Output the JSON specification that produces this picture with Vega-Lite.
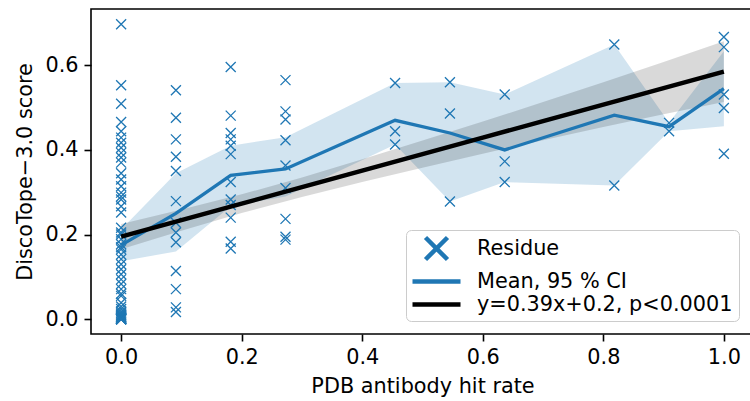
{
  "$schema": "https://vega.github.io/schema/vega-lite/v6.json",
  "width": 663,
  "height": 325,
  "autosize": {"type": "none"},
  "padding": {"left": 91, "top": 9, "right": 0, "bottom": 67},
  "background": "white",
  "config": {
    "font": "DejaVu Sans",
    "view": {"stroke": "black", "strokeWidth": 1.6},
    "axis": {
      "domain": false, "grid": false, "ticks": true,
      "tickColor": "black", "tickSize": 7, "tickWidth": 1.6,
      "labelFont": "DejaVu Sans", "labelFontSize": 20.8, "labelColor": "black", "labelPadding": 6,
      "titleFont": "DejaVu Sans", "titleFontSize": 20.8, "titleFontWeight": "normal", "titleColor": "black"
    },
    "axisX": {"titlePadding": 10},
    "axisY": {"titlePadding": 9}
  },
  "datasets": {
    "points": [
      {"x": 0, "y": 0.697}, {"x": 0, "y": 0.553}, {"x": 0, "y": 0.509}, {"x": 0, "y": 0.466},
      {"x": 0, "y": 0.444}, {"x": 0, "y": 0.429}, {"x": 0, "y": 0.417}, {"x": 0, "y": 0.405},
      {"x": 0, "y": 0.393}, {"x": 0, "y": 0.382}, {"x": 0, "y": 0.370}, {"x": 0, "y": 0.345},
      {"x": 0, "y": 0.330}, {"x": 0, "y": 0.314}, {"x": 0, "y": 0.299}, {"x": 0, "y": 0.290},
      {"x": 0, "y": 0.283}, {"x": 0, "y": 0.267}, {"x": 0, "y": 0.252}, {"x": 0, "y": 0.216},
      {"x": 0, "y": 0.205}, {"x": 0, "y": 0.200}, {"x": 0, "y": 0.189}, {"x": 0, "y": 0.177},
      {"x": 0, "y": 0.170}, {"x": 0, "y": 0.165}, {"x": 0, "y": 0.153}, {"x": 0, "y": 0.142},
      {"x": 0, "y": 0.130}, {"x": 0, "y": 0.118}, {"x": 0, "y": 0.106}, {"x": 0, "y": 0.094},
      {"x": 0, "y": 0.083}, {"x": 0, "y": 0.071}, {"x": 0, "y": 0.060}, {"x": 0, "y": 0.055},
      {"x": 0, "y": 0.039}, {"x": 0, "y": 0.030}, {"x": 0, "y": 0.024}, {"x": 0, "y": 0.018},
      {"x": 0, "y": 0.015}, {"x": 0, "y": 0.012}, {"x": 0, "y": 0.010}, {"x": 0, "y": 0.008},
      {"x": 0, "y": 0.006}, {"x": 0, "y": 0.005}, {"x": 0, "y": 0.004}, {"x": 0, "y": 0.003},
      {"x": 0, "y": 0.002}, {"x": 0, "y": 0.001}, {"x": 0, "y": 0.0}, {"x": 0, "y": 0.0},
      {"x": 0, "y": 0.0}, {"x": 0, "y": 0.0},
      {"x": 0.0909, "y": 0.541}, {"x": 0.0909, "y": 0.476}, {"x": 0.0909, "y": 0.425},
      {"x": 0.0909, "y": 0.384}, {"x": 0.0909, "y": 0.350}, {"x": 0.0909, "y": 0.279},
      {"x": 0.0909, "y": 0.228}, {"x": 0.0909, "y": 0.205}, {"x": 0.0909, "y": 0.182},
      {"x": 0.0909, "y": 0.114}, {"x": 0.0909, "y": 0.071}, {"x": 0.0909, "y": 0.028},
      {"x": 0.0909, "y": 0.017},
      {"x": 0.1818, "y": 0.596}, {"x": 0.1818, "y": 0.481}, {"x": 0.1818, "y": 0.440},
      {"x": 0.1818, "y": 0.425}, {"x": 0.1818, "y": 0.410}, {"x": 0.1818, "y": 0.390},
      {"x": 0.1818, "y": 0.324}, {"x": 0.1818, "y": 0.283}, {"x": 0.1818, "y": 0.270},
      {"x": 0.1818, "y": 0.240}, {"x": 0.1818, "y": 0.183}, {"x": 0.1818, "y": 0.167},
      {"x": 0.2727, "y": 0.565}, {"x": 0.2727, "y": 0.491}, {"x": 0.2727, "y": 0.472},
      {"x": 0.2727, "y": 0.423}, {"x": 0.2727, "y": 0.363}, {"x": 0.2727, "y": 0.310},
      {"x": 0.2727, "y": 0.237}, {"x": 0.2727, "y": 0.195}, {"x": 0.2727, "y": 0.188},
      {"x": 0.4545, "y": 0.558}, {"x": 0.4545, "y": 0.444}, {"x": 0.4545, "y": 0.413},
      {"x": 0.5455, "y": 0.560}, {"x": 0.5455, "y": 0.486}, {"x": 0.5455, "y": 0.278},
      {"x": 0.6364, "y": 0.531}, {"x": 0.6364, "y": 0.373}, {"x": 0.6364, "y": 0.324},
      {"x": 0.8182, "y": 0.649}, {"x": 0.8182, "y": 0.316},
      {"x": 0.9091, "y": 0.464}, {"x": 0.9091, "y": 0.444},
      {"x": 1.0, "y": 0.667}, {"x": 1.0, "y": 0.643}, {"x": 1.0, "y": 0.531},
      {"x": 1.0, "y": 0.499}, {"x": 1.0, "y": 0.391}
    ],
    "mean": [
      {"x": 0, "mean": 0.175, "lo": 0.137, "hi": 0.212},
      {"x": 0.0909, "mean": 0.250, "lo": 0.160, "hi": 0.345},
      {"x": 0.1818, "mean": 0.340, "lo": 0.267, "hi": 0.410},
      {"x": 0.2727, "mean": 0.355, "lo": 0.290, "hi": 0.430},
      {"x": 0.4545, "mean": 0.470, "lo": 0.413, "hi": 0.558},
      {"x": 0.5455, "mean": 0.440, "lo": 0.278, "hi": 0.560},
      {"x": 0.6364, "mean": 0.400, "lo": 0.324, "hi": 0.531},
      {"x": 0.8182, "mean": 0.482, "lo": 0.316, "hi": 0.649},
      {"x": 0.9091, "mean": 0.455, "lo": 0.444, "hi": 0.464},
      {"x": 1.0, "mean": 0.545, "lo": 0.456, "hi": 0.633}
    ],
    "reg": [
      {"x": 0.0, "fit": 0.195, "lo": 0.165, "hi": 0.225},
      {"x": 0.1, "fit": 0.234, "lo": 0.209, "hi": 0.259},
      {"x": 0.2, "fit": 0.273, "lo": 0.251, "hi": 0.295},
      {"x": 0.3, "fit": 0.312, "lo": 0.289, "hi": 0.335},
      {"x": 0.4, "fit": 0.351, "lo": 0.324, "hi": 0.378},
      {"x": 0.5, "fit": 0.390, "lo": 0.358, "hi": 0.422},
      {"x": 0.6, "fit": 0.429, "lo": 0.391, "hi": 0.467},
      {"x": 0.7, "fit": 0.468, "lo": 0.423, "hi": 0.513},
      {"x": 0.8, "fit": 0.507, "lo": 0.454, "hi": 0.560},
      {"x": 0.9, "fit": 0.546, "lo": 0.484, "hi": 0.608},
      {"x": 1.0, "fit": 0.585, "lo": 0.513, "hi": 0.657}
    ]
  },
  "layer": [
    {
      "data": {"name": "mean"},
      "mark": {"type": "area", "color": "#1f77b4", "opacity": 0.2},
      "encoding": {
        "x": {"field": "x", "type": "quantitative", "title": "PDB antibody hit rate",
              "scale": {"domain": [-0.05, 1.05], "nice": false, "zero": false},
              "axis": {"values": [0, 0.2, 0.4, 0.6, 0.8, 1.0], "format": ".1f"}},
        "y": {"field": "lo", "type": "quantitative", "title": "DiscoTope−3.0 score",
              "scale": {"domain": [-0.035, 0.733], "nice": false, "zero": false},
              "axis": {"values": [0, 0.2, 0.4, 0.6], "format": ".1f"}},
        "y2": {"field": "hi"}
      }
    },
    {
      "data": {"name": "reg"},
      "mark": {"type": "area", "color": "#000000", "opacity": 0.15},
      "encoding": {
        "x": {"field": "x", "type": "quantitative", "title": "PDB antibody hit rate"},
        "y": {"field": "lo", "type": "quantitative", "title": "DiscoTope−3.0 score"},
        "y2": {"field": "hi"}
      }
    },
    {
      "data": {"name": "points"},
      "mark": {"type": "point", "shape": "M-1,-1L1,1M-1,1L1,-1", "size": 100, "strokeWidth": 1.3, "filled": false, "opacity": 1},
      "encoding": {
        "x": {"field": "x", "type": "quantitative", "title": "PDB antibody hit rate"},
        "y": {"field": "y", "type": "quantitative", "title": "DiscoTope−3.0 score"},
        "color": {
          "datum": "Residue", "type": "nominal",
          "scale": {"domain": ["Residue", "Mean, 95 % CI", "y=0.39x+0.2, p<0.0001"], "range": ["#1f77b4", "#1f77b4", "#000000"]},
          "legend": {
            "title": null, "orient": "none", "legendX": 315, "legendY": 221,
            "labelFont": "DejaVu Sans", "labelFontSize": 20.8, "labelColor": "black", "labelLimit": 400,
            "symbolType": {"expr": "datum.value === 'Residue' ? 'M-1.1,-1.1L1.1,1.1M-1.1,1.1L1.1,-1.1' : 'M-2.4,0L2.4,0'"},
            "symbolSize": 400, "symbolStrokeWidth": 4.5, "symbolOffset": 12, "symbolOpacity": 1,
            "labelOffset": 28, "rowPadding": -4, "padding": 6,
            "fillColor": "rgba(255,255,255,0.8)", "strokeColor": "#cccccc", "cornerRadius": 5
          }
        }
      }
    },
    {
      "data": {"name": "mean"},
      "mark": {"type": "line", "strokeWidth": 3.3},
      "encoding": {
        "x": {"field": "x", "type": "quantitative", "title": "PDB antibody hit rate"},
        "y": {"field": "mean", "type": "quantitative", "title": "DiscoTope−3.0 score"},
        "color": {"datum": "Mean, 95 % CI", "type": "nominal"}
      }
    },
    {
      "data": {"name": "reg"},
      "mark": {"type": "line", "strokeWidth": 4.5},
      "encoding": {
        "x": {"field": "x", "type": "quantitative", "title": "PDB antibody hit rate"},
        "y": {"field": "fit", "type": "quantitative", "title": "DiscoTope−3.0 score"},
        "color": {"datum": "y=0.39x+0.2, p<0.0001", "type": "nominal"}
      }
    }
  ]
}
